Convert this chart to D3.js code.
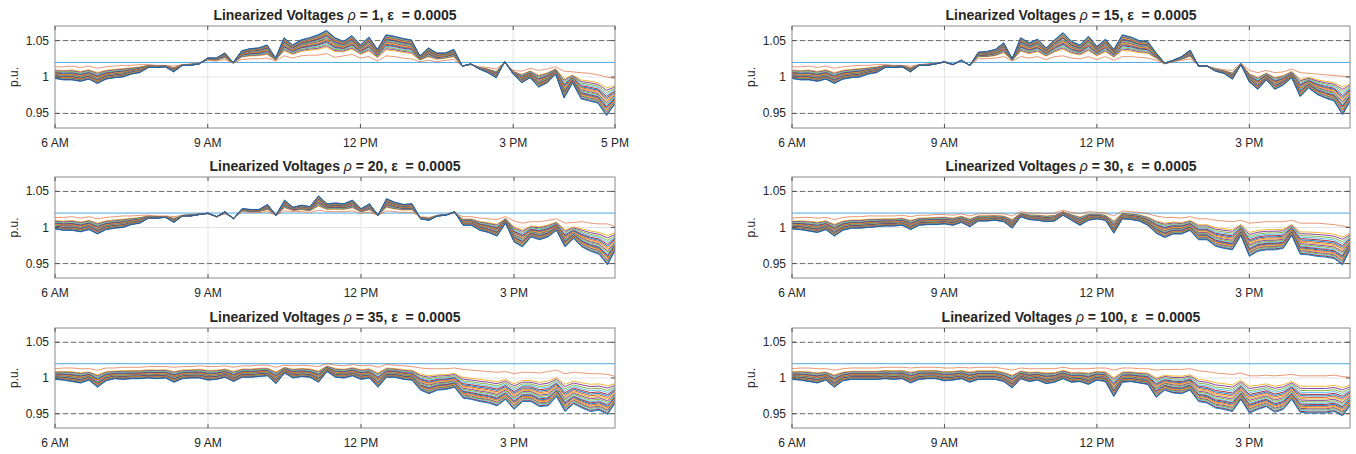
<!DOCTYPE html>
<html><head><meta charset="utf-8">
<script src="https://cdn.jsdelivr.net/npm/d3@7"></script>
<style>
body{margin:0;background:#fff}
svg text{font-family:"Liberation Sans",Arial,Helvetica,sans-serif;fill:#262626}
</style>
</head><body>
<svg id="chart" width="1356" height="454"></svg>
<script>
// ---------------- data ----------------
const times = ["6:00","6:10","6:20","6:30","6:40","6:50","7:00","7:10","7:20","7:30","7:40","7:50",
"8:00","8:10","8:20","8:30","8:40","8:50","9:00","9:10","9:20","9:30","9:40","9:50",
"10:00","10:10","10:20","10:30","10:40","10:50","11:00","11:10","11:20","11:30","11:40","11:50",
"12:00","12:10","12:20","12:30","12:40","12:50","13:00","13:10","13:20","13:30","13:40","13:50",
"14:00","14:10","14:20","14:30","14:40","14:50","15:00","15:10","15:20","15:30","15:40","15:50",
"16:00","16:10","16:20","16:30","16:40","16:50","17:00"];

const rhoValues = [1, 15, 20, 30, 35, 100];
const epsilonLabel = "0.0005";
const tickHours = [6, 9, 12, 15, 17];
const tickLabels = ["6 AM", "9 AM", "12 PM", "3 PM", "5 PM"];
const yTicks = [0.95, 1, 1.05];
const yTickLabels = ["0.95", "1", "1.05"];
const limitLines = [0.95, 1.05];
const targetLine = 1.02;

// position of each bus inside the fan between the feeder-head bus and the last bus
const busFractions = [0, 0.28, 0.34, 0.40, 0.45, 0.50, 0.54, 0.58, 0.62, 0.66, 0.70,
  0.74, 0.77, 0.80, 0.83, 0.86, 0.89, 0.92, 0.95, 0.975, 1.0];

// rho = 1
const head1 = [1.014,1.014,1.015,1.013,1.015,1.012,1.014,1.015,1.016,1.016,1.017,1.017,1.016,1.016,1.015,1.017,1.018,1.019,
1.023,1.022,1.024,1.019,1.024,1.025,1.025,1.026,1.022,1.029,1.026,1.029,1.030,1.030,1.032,1.027,1.029,1.031,1.026,1.028,1.022,1.029,
1.028,1.026,1.025,1.021,1.023,1.021,1.023,1.024,1.015,1.017,1.014,1.013,1.011,1.020,1.009,1.008,1.012,1.009,1.011,1.014,
1.008,1.007,1.006,1.005,1.003,1.000,0.998];
const tail1 = [0.998,0.996,0.996,0.994,0.997,0.991,0.997,0.999,1.000,1.004,1.006,1.013,1.013,1.014,1.007,1.016,1.016,1.018,
1.026,1.026,1.033,1.020,1.036,1.039,1.040,1.044,1.026,1.054,1.044,1.051,1.054,1.058,1.064,1.054,1.049,1.057,1.044,1.055,1.038,1.058,
1.056,1.053,1.051,1.029,1.040,1.033,1.033,1.038,1.015,1.018,1.011,1.006,0.999,1.021,1.004,0.992,0.999,0.986,0.992,1.004,
0.971,0.992,0.970,0.967,0.964,0.947,0.963];
// rho = 15
const head15 = [1.014,1.014,1.015,1.013,1.015,1.012,1.014,1.015,1.016,1.016,1.017,1.017,1.016,1.016,1.015,1.017,1.018,1.019,
1.020,1.017,1.022,1.016,1.025,1.025,1.026,1.028,1.022,1.028,1.026,1.028,1.024,1.028,1.029,1.026,1.025,1.028,1.024,1.028,1.023,1.028,
1.028,1.027,1.026,1.023,1.018,1.021,1.023,1.025,1.016,1.015,1.012,1.010,1.009,1.019,1.009,1.006,1.009,1.006,1.007,1.011,
1.006,1.005,1.004,1.003,1.002,1.001,1.000];
const tail15 = [0.998,0.996,0.996,0.994,0.997,0.991,0.997,0.999,1.000,1.004,1.006,1.013,1.013,1.014,1.007,1.016,1.016,1.018,
1.021,1.017,1.023,1.016,1.034,1.035,1.038,1.047,1.025,1.054,1.047,1.052,1.040,1.051,1.061,1.049,1.044,1.056,1.042,1.052,1.038,1.058,
1.055,1.050,1.049,1.033,1.019,1.023,1.028,1.037,1.015,1.015,1.008,1.005,0.997,1.017,0.993,0.983,0.996,0.983,0.989,0.999,
0.973,0.985,0.976,0.971,0.967,0.948,0.969];
// rho = 20
const head20 = [1.014,1.014,1.015,1.013,1.015,1.012,1.014,1.015,1.016,1.016,1.017,1.017,1.016,1.016,1.015,1.017,1.018,1.019,
1.019,1.015,1.019,1.013,1.022,1.021,1.021,1.022,1.017,1.023,1.022,1.022,1.021,1.024,1.022,1.022,1.022,1.023,1.020,1.021,1.017,1.023,
1.022,1.021,1.021,1.015,1.014,1.017,1.018,1.020,1.015,1.015,1.013,1.012,1.011,1.015,1.009,1.006,1.008,1.008,1.010,1.012,
1.006,1.007,1.008,1.006,1.005,1.005,1.001];
const tail20 = [0.998,0.996,0.996,0.994,0.997,0.991,0.997,0.999,1.000,1.004,1.006,1.013,1.013,1.014,1.007,1.016,1.016,1.018,
1.020,1.015,1.022,1.012,1.026,1.025,1.025,1.032,1.017,1.038,1.028,1.031,1.029,1.044,1.033,1.034,1.033,1.038,1.026,1.033,1.017,1.040,
1.035,1.032,1.033,1.012,1.010,1.016,1.017,1.022,1.003,1.003,0.996,0.993,0.988,1.006,0.980,0.973,0.987,0.983,0.987,0.996,
0.973,0.985,0.973,0.967,0.963,0.948,0.971];
// rho = 30
const head30 = [1.013,1.014,1.014,1.013,1.014,1.011,1.014,1.015,1.015,1.016,1.016,1.016,1.016,1.017,1.015,1.017,1.017,1.018,
1.018,1.017,1.019,1.016,1.019,1.019,1.019,1.019,1.016,1.022,1.020,1.020,1.019,1.020,1.024,1.021,1.019,1.022,1.021,1.020,1.016,1.023,
1.022,1.021,1.019,1.016,1.014,1.014,1.013,1.015,1.012,1.012,1.010,1.009,1.008,1.010,1.006,1.007,1.008,1.008,1.008,1.010,
1.006,1.006,1.006,1.005,1.004,1.002,1.000];
const tail30 = [0.998,0.997,0.995,0.993,0.997,0.988,0.996,0.999,0.999,1.000,1.001,1.002,1.002,1.003,0.997,1.003,1.004,1.004,
1.005,1.003,1.007,1.001,1.009,1.009,1.010,1.008,0.999,1.015,1.011,1.010,1.008,1.009,1.017,1.010,1.003,1.010,1.012,1.010,0.992,1.012,
1.011,1.009,1.003,0.992,0.986,0.991,0.991,0.996,0.983,0.983,0.974,0.971,0.969,0.989,0.960,0.967,0.969,0.969,0.971,0.989,
0.963,0.962,0.960,0.959,0.957,0.948,0.973];
// rho = 35
const head35 = [1.013,1.014,1.014,1.013,1.013,1.011,1.014,1.014,1.015,1.015,1.015,1.016,1.016,1.016,1.015,1.016,1.016,1.017,
1.016,1.016,1.017,1.015,1.017,1.017,1.018,1.018,1.015,1.018,1.017,1.018,1.017,1.016,1.020,1.018,1.017,1.019,1.017,1.018,1.015,1.019,
1.018,1.017,1.016,1.014,1.013,1.013,1.013,1.014,1.012,1.011,1.010,1.009,1.008,1.009,1.006,1.008,1.008,1.007,1.009,1.011,
1.006,1.008,1.007,1.006,1.006,1.005,1.002];
const tail35 = [0.998,0.997,0.995,0.993,0.997,0.987,0.996,0.999,0.998,0.999,0.999,1.000,0.999,1.000,0.994,0.999,1.000,1.000,
0.997,0.998,1.001,0.995,1.001,1.001,1.002,1.003,0.992,1.007,1.000,1.002,1.001,0.994,1.009,1.001,1.000,1.003,0.998,1.000,0.987,1.001,
1.001,0.998,0.997,0.983,0.978,0.983,0.984,0.987,0.972,0.970,0.967,0.965,0.961,0.970,0.956,0.967,0.967,0.960,0.961,0.974,
0.953,0.964,0.958,0.953,0.955,0.949,0.967];
// rho = 100
const head100 = [1.013,1.014,1.014,1.013,1.013,1.011,1.013,1.014,1.014,1.014,1.014,1.015,1.015,1.015,1.014,1.015,1.015,1.015,
1.014,1.014,1.015,1.014,1.015,1.015,1.015,1.013,1.011,1.014,1.013,1.013,1.013,1.013,1.015,1.013,1.013,1.013,1.014,1.014,1.011,1.014,
1.014,1.013,1.013,1.011,1.012,1.012,1.012,1.013,1.010,1.009,1.007,1.006,1.005,1.007,1.003,1.003,1.004,1.003,1.004,1.005,
1.003,1.003,1.003,1.003,1.004,1.002,1.001];
const tail100 = [0.998,0.997,0.995,0.993,0.997,0.987,0.996,0.998,0.998,0.998,0.998,0.999,0.998,0.999,0.993,0.998,0.999,0.999,
0.996,0.997,0.999,0.994,0.998,0.998,0.998,0.995,0.986,0.999,0.995,0.997,0.992,0.994,0.999,0.994,0.995,0.991,0.997,0.995,0.974,0.994,
0.995,0.993,0.991,0.973,0.983,0.979,0.978,0.983,0.967,0.965,0.958,0.956,0.953,0.970,0.951,0.956,0.960,0.952,0.956,0.970,
0.952,0.951,0.951,0.951,0.953,0.947,0.963];

const palette = ["#0072BD","#D95319","#EDB120","#7E2F8E","#77AC30","#4DBEEE","#A2142F"];

// ---------------- layout ----------------
const heads = [head1, head15, head20, head30, head35, head100];
const tails = [tail1, tail15, tail20, tail30, tail35, tail100];
const colX = [[55, 615], [792, 1350]];
const rowY = [[26, 128], [177, 278], [328, 428]];
const xEnds = [17, 16.98, 16.98, 16.98, 16.98, 16.98];

const hours = times.map(t => { const [h, m] = t.split(":").map(Number); return h + m / 60; });
const svg = d3.select("#chart");

rhoValues.forEach((rho, p) => {
  const col = p % 2, row = Math.floor(p / 2);
  const [x0, x1] = colX[col], [y0, y1] = rowY[row];
  const x = d3.scaleLinear().domain([6, xEnds[p]]).range([x0, x1]);
  const y = d3.scaleLinear().domain([0.93, 1.07]).range([y1, y0]);
  const g = svg.append("g");
  const clipId = "clip" + p;
  svg.append("clipPath").attr("id", clipId).append("rect")
    .attr("x", x0).attr("y", y0).attr("width", x1 - x0).attr("height", y1 - y0);

  const xt = tickHours.map((h, i) => ({h, label: tickLabels[i]})).filter(d => d.h <= xEnds[p] + 1e-9);

  // grid
  g.selectAll(".gx").data(xt.filter(d => d.h > 6 && d.h < xEnds[p])).enter().append("line")
    .attr("x1", d => x(d.h)).attr("x2", d => x(d.h)).attr("y1", y0).attr("y2", y1)
    .attr("stroke", "#e3e3e3").attr("stroke-width", 1);
  g.selectAll(".gy").data(yTicks).enter().append("line")
    .attr("x1", x0).attr("x2", x1).attr("y1", d => y(d)).attr("y2", d => y(d))
    .attr("stroke", "#e3e3e3").attr("stroke-width", 1);

  // limits
  g.selectAll(".lim").data(limitLines).enter().append("line")
    .attr("x1", x0).attr("x2", x1).attr("y1", d => y(d)).attr("y2", d => y(d))
    .attr("stroke", "#6e6e6e").attr("stroke-width", 1).attr("stroke-dasharray", "5,3");
  g.append("line").attr("x1", x0).attr("x2", x1).attr("y1", y(targetLine)).attr("y2", y(targetLine))
    .attr("stroke", "#4DA8E6").attr("stroke-width", 1);

  // bus voltage lines
  const line = d3.line().x((d, i) => x(hours[i])).y(d => y(d));
  const lg = g.append("g").attr("clip-path", `url(#${clipId})`);
  busFractions.forEach((f, b) => {
    const vals = heads[p].map((h, i) => h + f * (tails[p][i] - h));
    lg.append("path").datum(vals).attr("d", line).attr("fill", "none")
      .attr("stroke", palette[(b + 1) % palette.length])
      .attr("stroke-width", b === 0 ? 0.8 : 0.9)
      .attr("stroke-opacity", b === 0 ? 0.75 : 1)
      .attr("stroke-linejoin", "round");
  });

  // box
  g.append("rect").attr("x", x0).attr("y", y0).attr("width", x1 - x0).attr("height", y1 - y0)
    .attr("fill", "none").attr("stroke", "#8a8a8a").attr("stroke-width", 1);

  // ticks
  xt.forEach(d => {
    [[y1, y1 - 4], [y0, y0 + 4]].forEach(([a, b]) =>
      g.append("line").attr("x1", x(d.h)).attr("x2", x(d.h)).attr("y1", a).attr("y2", b)
        .attr("stroke", "#555").attr("stroke-width", 1));
    g.append("text").attr("x", x(d.h)).attr("y", y1 + 19).attr("text-anchor", "middle")
      .attr("font-size", 12).text(d.label);
  });
  yTicks.forEach((v, i) => {
    [[x0, x0 + 4], [x1, x1 - 4]].forEach(([a, b]) =>
      g.append("line").attr("x1", a).attr("x2", b).attr("y1", y(v)).attr("y2", y(v))
        .attr("stroke", "#555").attr("stroke-width", 1));
    g.append("text").attr("x", x0 - 6).attr("y", y(v) + 4).attr("text-anchor", "end")
      .attr("font-size", 12).text(yTickLabels[i]);
  });

  // y label
  g.append("text").attr("transform", `translate(${x0 - 37},${(y0 + y1) / 2}) rotate(-90)`)
    .attr("text-anchor", "middle").attr("font-size", 12).text("p.u.");

  // title
  const t = g.append("text").attr("x", (x0 + x1) / 2).attr("y", y0 - 6).attr("text-anchor", "middle")
    .attr("font-size", 14).style("white-space", "pre").attr("fill", "#000");
  t.append("tspan").attr("font-weight", "bold").text("Linearized Voltages ");
  t.append("tspan").attr("font-style", "italic").text("ρ");
  t.append("tspan").attr("font-weight", "bold").text(` = ${rho}, `);
  t.append("tspan").attr("font-weight", "bold").text("ε");
  t.append("tspan").attr("font-weight", "bold").text(`  = ${epsilonLabel}`);
});
</script>
</body></html>
